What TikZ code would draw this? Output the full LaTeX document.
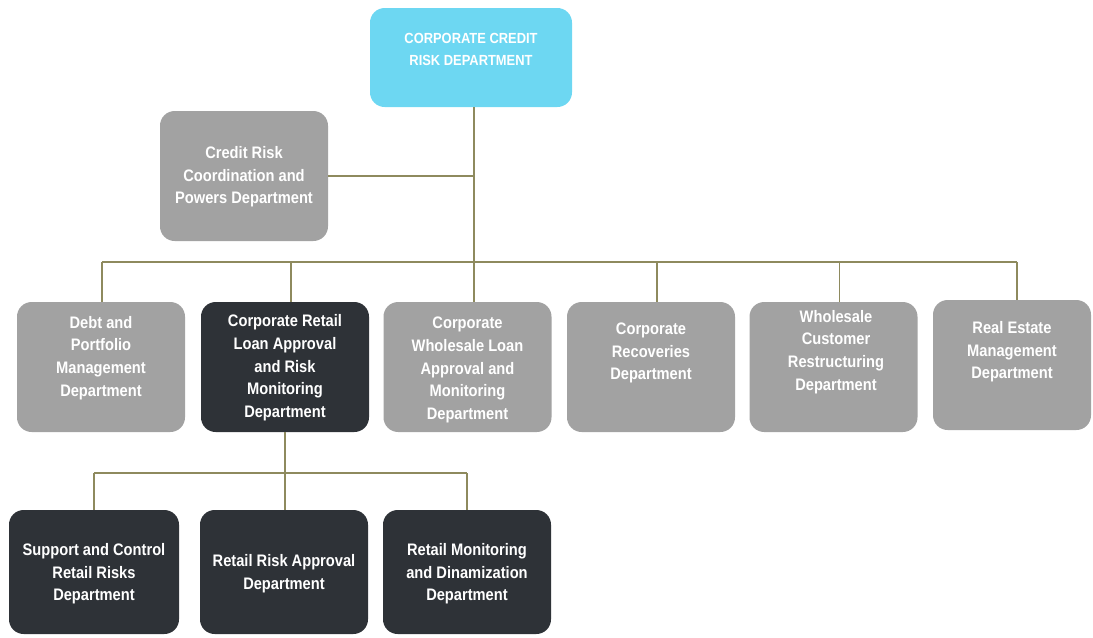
\documentclass[tikz,border=0pt]{standalone}
\usepackage{fontspec}
\newfontfamily\boxfont{Liberation Sans}[FakeStretch=0.88]
\definecolor{headcyan}{HTML}{6DD7F2}
\definecolor{boxgrey}{HTML}{A2A2A2}
\definecolor{boxdark}{HTML}{2E3237}
\definecolor{linkcol}{HTML}{8E8A5E}
\tikzset{
  unitbox/.style={rounded corners=11pt, minimum width=126pt, minimum height=97.5pt, inner sep=0pt, draw=none},
  headbox/.style={unitbox, fill=headcyan, minimum width=151.5pt, minimum height=74.25pt},
  greybox/.style={unitbox, fill=boxgrey},
  darkbox/.style={unitbox, fill=boxdark},
  boxtext/.style={text=white, font=\boxfont\bfseries\fontsize{12.5}{17}\selectfont, align=center, inner sep=0pt},
  headtext/.style={text=white, font=\boxfont\bfseries\fontsize{11}{16.5}\selectfont, align=center, inner sep=0pt},
  link/.style={draw=linkcol, line width=1.1pt}
}
\begin{document}
\begin{tikzpicture}[x=0.75pt, y=-0.75pt]
\useasboundingbox (0,0) rectangle (1093,637);

% head of the department
\node[headbox] (top) at (471,57.5) {};
\node[headtext] (ttop) at (471,49) {CORPORATE CREDIT\\RISK DEPARTMENT};

% staff unit beside the trunk
\node[greybox] (cr) at (244,176) {};
\node[boxtext] (tcr) at (244,177) {Credit Risk\\Coordination and\\Powers Department};

% second level
\node[greybox] (d1) at (101,367) {};
\node[darkbox] (d2) at (285,367) {};
\node[greybox] (d3) at (467.5,367) {};
\node[greybox] (d4) at (651,367) {};
\node[greybox] (d5) at (833.5,367) {};
\node[greybox, minimum width=118.5pt] (d6) at (1012,365) {};

\node[boxtext] (td1) at (101,358) {Debt and\\Portfolio\\Management\\Department};
\node[boxtext] (td2) at (285,368) {Corporate Retail\\Loan Approval\\and Risk\\Monitoring\\Department};
\node[boxtext] (td3) at (467.5,370) {Corporate\\Wholesale Loan\\Approval and\\Monitoring\\Department};
\node[boxtext] (td4) at (651,353) {Corporate\\Recoveries\\Department};
\node[boxtext] (td5) at (836,352) {Wholesale\\Customer\\Restructuring\\Department};
\node[boxtext] (td6) at (1012,352) {Real Estate\\Management\\Department};

% retail units
\node[darkbox, minimum width=127.5pt, minimum height=93pt] (b1) at (94,572) {};
\node[darkbox, minimum height=93pt] (b2) at (284,572) {};
\node[darkbox, minimum height=93pt] (b3) at (467,572) {};

\node[boxtext] (tb1) at (94,574) {Support and Control\\Retail Risks\\Department};
\node[boxtext] (tb2) at (284,574) {Retail Risk Approval\\Department};
\node[boxtext] (tb3) at (467,574) {Retail Monitoring\\and Dinamization\\Department};

% connectors
\coordinate (bus) at (0,262);
\coordinate (bustwo) at (0,473);
\coordinate (trunk) at ([xshift=2.25pt]top.south);

\draw[link] (trunk) -- (trunk |- d3.north);
\draw[link] (cr.east) -- (cr.east -| trunk);
\draw[link] ([xshift=0.75pt]d1.north |- bus) -- ([xshift=3.75pt]d6.north |- bus);
\foreach \n/\dx in {d1/0.75, d2/4.5, d4/4.5, d5/4.5, d6/3.75}
  \draw[link] ([xshift=\dx pt]\n.north |- bus) -- ([xshift=\dx pt]\n.north);

\draw[link] (d2.south) -- (d2.south |- b2.north);
\draw[link] (b1.north |- bustwo) -- (b3.north |- bustwo);
\foreach \n in {b1, b3}
  \draw[link] (\n.north |- bustwo) -- (\n.north);
\end{tikzpicture}
\end{document}
